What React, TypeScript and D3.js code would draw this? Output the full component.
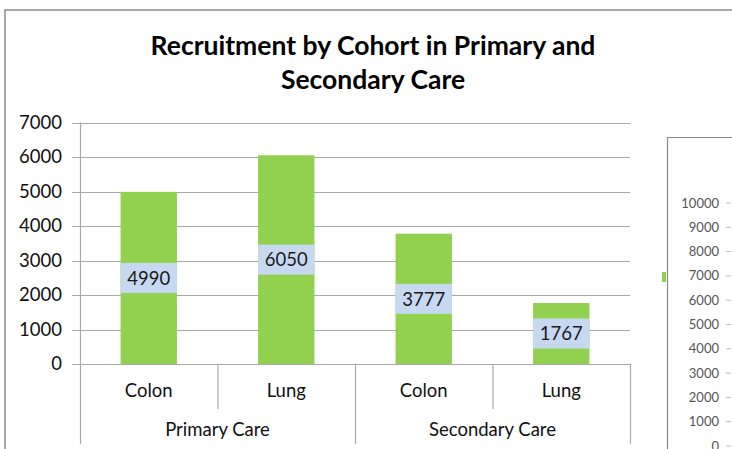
import React, { useRef, useEffect } from 'react';
import * as d3 from 'd3';

// chart values
const cohorts = ['Colon', 'Lung', 'Colon', 'Lung'];
const careGroups = ['Primary Care', 'Secondary Care'];
const recruitment = [4990, 6050, 3777, 1767];
const yTicks = [0, 1000, 2000, 3000, 4000, 5000, 6000, 7000];
// the neighbouring chart that is cut off on the right
const sideTicks = [0, 1000, 2000, 3000, 4000, 5000, 6000, 7000, 8000, 9000, 10000];

const FONT = 'Lato, "Open Sans", sans-serif';
const LABEL_SIZE = 18.5;

const App = () => {
  const svgRef = useRef<SVGSVGElement>(null);

  useEffect(() => {
    const svg = d3.select(svgRef.current);
    svg.selectAll('*').remove();

    const left = 80;
    const right = 630;
    const top = 122.5;
    const bottom = 364;

    const x = d3.scaleBand<number>()
      .domain(recruitment.map((d, i) => i))
      .range([left, right]);
    const y = d3.scaleLinear().domain([0, 7000]).range([bottom, top]);
    const barW = x.bandwidth() * 0.41;

    // outer chart border
    svg.append('path')
      .attr('d', `M5,449 L5,10 L732,10`)
      .attr('fill', 'none')
      .attr('stroke', '#8a8a8a')
      .attr('stroke-width', 1.5);

    // title
    const title = svg.append('text')
      .attr('text-anchor', 'middle')
      .attr('font-family', FONT)
      .attr('font-weight', 'bold')
      .attr('font-size', 26.5)
      .attr('fill', '#000');
    title.append('tspan').attr('x', 373).attr('y', 55).text('Recruitment by Cohort in Primary and');
    title.append('tspan').attr('x', 373).attr('y', 89).text('Secondary Care');

    // gridlines + tick stubs
    svg.append('g').selectAll('line')
      .data(yTicks)
      .enter()
      .append('line')
      .attr('x1', left - 8)
      .attr('x2', right)
      .attr('y1', d => Math.round(y(d)) + 0.5)
      .attr('y2', d => Math.round(y(d)) + 0.5)
      .attr('stroke', '#a9a9a9')
      .attr('stroke-width', 1.2);

    // y axis line
    svg.append('line')
      .attr('x1', left + 0.5).attr('x2', left + 0.5)
      .attr('y1', top).attr('y2', bottom)
      .attr('stroke', '#a9a9a9')
      .attr('stroke-width', 1.2);

    // y labels
    svg.append('g').selectAll('text')
      .data(yTicks)
      .enter()
      .append('text')
      .attr('x', 62)
      .attr('y', d => y(d))
      .attr('dy', '0.35em')
      .attr('text-anchor', 'end')
      .attr('font-family', FONT)
      .attr('font-size', LABEL_SIZE)
      .attr('fill', '#111')
      .text(d => d);

    // bars
    svg.append('g').selectAll('rect')
      .data(recruitment)
      .enter()
      .append('rect')
      .attr('x', (d, i) => (x(i) as number) + (x.bandwidth() - barW) / 2)
      .attr('y', d => y(d))
      .attr('width', barW)
      .attr('height', d => bottom - y(d))
      .attr('fill', '#92d050');

    // data labels (centred in the bar)
    const labels = svg.append('g').selectAll('g')
      .data(recruitment)
      .enter()
      .append('g')
      .attr('transform', (d, i) =>
        `translate(${(x(i) as number) + x.bandwidth() / 2},${(y(d) + bottom) / 2})`);
    labels.append('rect')
      .attr('x', -barW / 2)
      .attr('y', -15)
      .attr('width', barW)
      .attr('height', 30)
      .attr('fill', '#c6d9f1');
    labels.append('text')
      .attr('text-anchor', 'middle')
      .attr('dy', '0.36em')
      .attr('font-family', FONT)
      .attr('font-size', LABEL_SIZE)
      .attr('fill', '#1a1a1a')
      .text(d => d);

    // category separators
    const seps = svg.append('g');
    recruitment.forEach((d, i) => {
      const xs = x(i) as number;
      seps.append('line')
        .attr('x1', xs + 0.5).attr('x2', xs + 0.5)
        .attr('y1', bottom)
        .attr('y2', i % 2 === 0 ? 444 : 409)
        .attr('stroke', '#a9a9a9')
        .attr('stroke-width', 1.2);
    });
    seps.append('line')
      .attr('x1', right + 0.5).attr('x2', right + 0.5)
      .attr('y1', bottom).attr('y2', 444)
      .attr('stroke', '#a9a9a9')
      .attr('stroke-width', 1.2);

    // cohort labels
    svg.append('g').selectAll('text')
      .data(cohorts)
      .enter()
      .append('text')
      .attr('x', (d, i) => (x(i) as number) + x.bandwidth() / 2)
      .attr('y', 397)
      .attr('text-anchor', 'middle')
      .attr('font-family', FONT)
      .attr('font-size', LABEL_SIZE)
      .attr('fill', '#111')
      .text(d => d);

    // care group labels
    svg.append('g').selectAll('text')
      .data(careGroups)
      .enter()
      .append('text')
      .attr('x', (d, i) => (x(i * 2) as number) + x.bandwidth())
      .attr('y', 436)
      .attr('text-anchor', 'middle')
      .attr('font-family', FONT)
      .attr('font-size', LABEL_SIZE)
      .attr('fill', '#111')
      .text(d => d);

    // partial second chart at the right edge
    const ySide = d3.scaleLinear().domain([0, 10000]).range([446, 203]);
    svg.append('path')
      .attr('d', 'M667.5,449 L667.5,137.5 L732,137.5')
      .attr('fill', 'none')
      .attr('stroke', '#8a8a8a')
      .attr('stroke-width', 1.2);
    svg.append('rect')
      .attr('x', 662).attr('y', 272)
      .attr('width', 4).attr('height', 10)
      .attr('fill', '#92d050');
    svg.append('g').selectAll('text')
      .data(sideTicks)
      .enter()
      .append('text')
      .attr('x', 719)
      .attr('y', d => ySide(d))
      .attr('dy', '0.35em')
      .attr('text-anchor', 'end')
      .attr('font-family', FONT)
      .attr('font-size', 13)
      .attr('fill', '#555')
      .text(d => d);
    svg.append('g').selectAll('line')
      .data(sideTicks)
      .enter()
      .append('line')
      .attr('x1', 726).attr('x2', 731)
      .attr('y1', d => ySide(d))
      .attr('y2', d => ySide(d))
      .attr('stroke', '#bbb');
  }, []);

  return (
    <svg
      ref={svgRef}
      width={732}
      height={449}
      style={{ position: 'absolute', left: 0, top: 0, background: '#fff' }}
    />
  );
};

export default App;
